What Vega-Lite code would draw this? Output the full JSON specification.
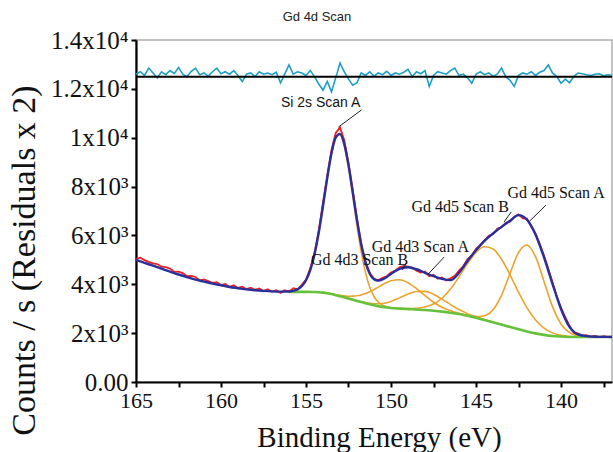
{
  "$schema": "https://vega.github.io/schema/vega-lite/v6.json",
  "width": 476,
  "height": 342,
  "autosize": "none",
  "padding": {"left": 136, "top": 40, "right": 1, "bottom": 70},
  "title": {"text": "Gd 4d Scan", "font": "Liberation Sans", "fontSize": 13, "fontWeight": "normal", "color": "#222222", "anchor": "middle", "dx": -57, "dy": 6, "baseline": "alphabetic", "offset": 0},
  "config": {"view": {"stroke": "#b0b0b0", "strokeWidth": 1.5}},
  "datasets": {
    "main": [
      {"E":165,"fit":5000},{"E":164.5,"fit":4880},{"E":164,"fit":4760},{"E":163.5,"fit":4640},{"E":163,"fit":4520},{"E":162.5,"fit":4400},{"E":162,"fit":4290},{"E":161.5,"fit":4190},{"E":161,"fit":4110},{"E":160.5,"fit":4030},{"E":160,"fit":3960},{"E":159.5,"fit":3890},{"E":159,"fit":3840},{"E":158.5,"fit":3790},{"E":158,"fit":3755},{"E":157.5,"fit":3730},{"E":157,"fit":3710},{"E":156.5,"fit":3700},
      {"E":156,"fit":3706,"bg":3690,"si":3706},
      {"E":155.5,"fit":3793,"bg":3690,"si":3793},
      {"E":155.25,"fit":3921,"bg":3690,"si":3921},
      {"E":155,"fit":4165,"bg":3690,"si":4165,"d3b":3690},
      {"E":154.75,"fit":4582,"bg":3688,"si":4582,"d3b":3688},
      {"E":154.5,"fit":5225,"bg":3683,"si":5224,"d3b":3684},
      {"E":154.25,"fit":6117,"bg":3675,"si":6115,"d3b":3677},
      {"E":154,"fit":7205,"bg":3660,"si":7201,"d3b":3664},
      {"E":153.75,"fit":8355,"bg":3635,"si":8348,"d3b":3642},
      {"E":153.5,"fit":9366,"bg":3600,"si":9353,"d3b":3613},
      {"E":153.25,"fit":10017,"bg":3555,"si":9994,"d3b":3578},
      {"E":153,"fit":10158,"bg":3510,"si":10119,"d3b":3548,"d3a":3511},
      {"E":152.75,"fit":9747,"bg":3465,"si":9684,"d3b":3527,"d3a":3466},
      {"E":152.5,"fit":8882,"bg":3415,"si":8784,"d3b":3511,"d3a":3417},
      {"E":152.25,"fit":7766,"bg":3370,"si":7618,"d3b":3514,"d3a":3374},
      {"E":152,"fit":6620,"bg":3320,"si":6403,"d3b":3529,"d3a":3328},
      {"E":151.75,"fit":5628,"bg":3270,"si":5322,"d3b":3562,"d3a":3284},
      {"E":151.5,"fit":4894,"bg":3225,"si":4476,"d3b":3619,"d3a":3249},
      {"E":151.25,"fit":4432,"bg":3180,"si":3880,"d3b":3692,"d3a":3220},
      {"E":151,"fit":4206,"bg":3140,"si":3500,"d3b":3783,"d3a":3203},
      {"E":150.75,"fit":4149,"bg":3105,"si":3274,"d3b":3884,"d3a":3201},
      {"E":150.5,"fit":4197,"bg":3075,"si":3148,"d3b":3984,"d3a":3215},
      {"E":150.25,"fit":4301,"bg":3050,"si":3079,"d3b":4074,"d3a":3248},
      {"E":150,"fit":4423,"bg":3030,"si":3040,"d3b":4143,"d3a":3298,"d5b":3032},
      {"E":149.5,"fit":4630,"bg":3005,"si":3006,"d3b":4184,"d3a":3444,"d5b":3011},
      {"E":149,"fit":4700,"bg":2985,"si":2985,"d3b":4066,"d3a":3601,"d5b":3003},
      {"E":148.5,"fit":4615,"bg":2965,"d3b":3823,"d3a":3706,"d5b":3016},
      {"E":148,"fit":4470,"bg":2945,"d3b":3535,"d3a":3710,"d5b":3071},
      {"E":147.5,"fit":4330,"bg":2915,"d3b":3266,"d3a":3591,"d5b":3193},
      {"E":147,"fit":4220,"bg":2880,"d3b":3061,"d3a":3392,"d5b":3429},
      {"E":146.5,"fit":4170,"bg":2835,"d3b":2916,"d3a":3168,"d5b":3802},
      {"E":146,"fit":4470,"bg":2780,"d3b":2811,"d3a":2965,"d5b":4300,"d5a":2782},
      {"E":145.5,"fit":4954,"bg":2710,"d3b":2720,"d3a":2799,"d5b":4845,"d5a":2720},
      {"E":145,"fit":5393,"bg":2630,"d3b":2633,"d3a":2666,"d5b":5307,"d5a":2677},
      {"E":144.5,"fit":5780,"bg":2540,"d3b":2541,"d3a":2553,"d5b":5537,"d5a":2715},
      {"E":144,"fit":6080,"bg":2445,"d3b":2445,"d3a":2449,"d5b":5442,"d5a":2961},
      {"E":143.5,"fit":6350,"bg":2350,"d3a":2351,"d5b":5027,"d5a":3549},
      {"E":143,"fit":6600,"bg":2255,"d3a":2255,"d5b":4390,"d5a":4443},
      {"E":142.5,"fit":6830,"bg":2160,"d5b":3680,"d5a":5299},
      {"E":142,"fit":6640,"bg":2070,"d5b":3037,"d5a":5610},
      {"E":141.5,"fit":6040,"bg":1990,"d5b":2539,"d5a":5129},
      {"E":141,"fit":5100,"bg":1930,"d5b":2208,"d5a":4118},
      {"E":140.5,"fit":4020,"bg":1885,"d5b":2011,"d5a":3084},
      {"E":140,"fit":2990,"bg":1860,"d5b":1911,"d5a":2376},
      {"E":139.5,"fit":2255,"bg":1845,"d5b":1863,"d5a":2020},
      {"E":139,"fit":1950,"bg":1840,"d5b":1846,"d5a":1887},
      {"E":138.5,"fit":1880,"bg":1840,"d5b":1842,"d5a":1850},
      {"E":138,"fit":1855,"bg":1840,"d5b":1840,"d5a":1842},
      {"E":137.5,"fit":1848,"bg":1840,"d5a":1840},
      {"E":137,"fit":1845,"bg":1840}
    ],
    "raw": [
      {"E":165,"c":5030},{"E":164.75,"c":5090},{"E":164.5,"c":4990},{"E":164.25,"c":4920},{"E":164,"c":4860},{"E":163.75,"c":4830},{"E":163.5,"c":4720},{"E":163.25,"c":4700},{"E":163,"c":4640},{"E":162.75,"c":4510},{"E":162.5,"c":4520},{"E":162.25,"c":4460},{"E":162,"c":4330},{"E":161.75,"c":4340},{"E":161.5,"c":4300},{"E":161.25,"c":4160},{"E":161,"c":4200},{"E":160.75,"c":4130},{"E":160.5,"c":4060},{"E":160.25,"c":4090},{"E":160,"c":3970},{"E":159.75,"c":4010},{"E":159.5,"c":3900},{"E":159.25,"c":3960},{"E":159,"c":3850},{"E":158.75,"c":3900},{"E":158.5,"c":3800},{"E":158.25,"c":3860},{"E":158,"c":3770},{"E":157.75,"c":3830},{"E":157.5,"c":3720},{"E":157.25,"c":3800},{"E":157,"c":3690},{"E":156.75,"c":3760},{"E":156.5,"c":3650},{"E":156.25,"c":3760},{"E":156,"c":3700},{"E":155.75,"c":3840},{"E":155.5,"c":3790},{"E":155.25,"c":3980},{"E":155,"c":4190},{"E":154.75,"c":4650},{"E":154.5,"c":5280},{"E":154.25,"c":6200},{"E":154,"c":7350},{"E":153.75,"c":8450},{"E":153.5,"c":9500},{"E":153.25,"c":10200},{"E":153,"c":10420},{"E":152.75,"c":9900},{"E":152.5,"c":8950},{"E":152.25,"c":7850},{"E":152,"c":6680},{"E":151.75,"c":5650},{"E":151.5,"c":4930},{"E":151.25,"c":4470},{"E":151,"c":4230},{"E":150.75,"c":4160},{"E":150.5,"c":4260},{"E":150.25,"c":4330},{"E":150,"c":4480},{"E":149.75,"c":4560},{"E":149.5,"c":4690},{"E":149.25,"c":4750},{"E":149,"c":4720},{"E":148.75,"c":4680},{"E":148.5,"c":4560},{"E":148.25,"c":4480},{"E":148,"c":4520},{"E":147.75,"c":4330},{"E":147.5,"c":4390},{"E":147.25,"c":4230},{"E":147,"c":4280},{"E":146.75,"c":4160},{"E":146.5,"c":4250},{"E":146.25,"c":4350},{"E":146,"c":4560},{"E":145.75,"c":4740},{"E":145.5,"c":5030},{"E":145.25,"c":5170},{"E":145,"c":5450},{"E":144.75,"c":5600},{"E":144.5,"c":5800},{"E":144.25,"c":5990},{"E":144,"c":6050},{"E":143.75,"c":6270},{"E":143.5,"c":6330},{"E":143.25,"c":6520},{"E":143,"c":6560},{"E":142.75,"c":6760},{"E":142.5,"c":6860},{"E":142.25,"c":6700},{"E":142,"c":6690},{"E":141.75,"c":6350},{"E":141.5,"c":6080},{"E":141.25,"c":5650},{"E":141,"c":5180},{"E":140.75,"c":4650},{"E":140.5,"c":4070},{"E":140.25,"c":3500},{"E":140,"c":3050},{"E":139.75,"c":2650},{"E":139.5,"c":2300},{"E":139.25,"c":2020},{"E":139,"c":1990},{"E":138.75,"c":1900},{"E":138.5,"c":1920},{"E":138.25,"c":1850},{"E":138,"c":1890},{"E":137.75,"c":1840},{"E":137.5,"c":1880},{"E":137.25,"c":1850},{"E":137,"c":1860}
    ],
    "res": [
      {"E":165,"r":12600},{"E":164.75,"r":12700},{"E":164.5,"r":12550},{"E":164.25,"r":12850},{"E":164,"r":12650},{"E":163.75,"r":12450},{"E":163.5,"r":12700},{"E":163.25,"r":12580},{"E":163,"r":12750},{"E":162.75,"r":12620},{"E":162.5,"r":12880},{"E":162.25,"r":12600},{"E":162,"r":12500},{"E":161.75,"r":12720},{"E":161.5,"r":12850},{"E":161.25,"r":12580},{"E":161,"r":12650},{"E":160.75,"r":12520},{"E":160.5,"r":12700},{"E":160.25,"r":12850},{"E":160,"r":12620},{"E":159.75,"r":12700},{"E":159.5,"r":12600},{"E":159.25,"r":12750},{"E":159,"r":12550},{"E":158.75,"r":12300},{"E":158.5,"r":12600},{"E":158.25,"r":12650},{"E":158,"r":12500},{"E":157.75,"r":12700},{"E":157.5,"r":12600},{"E":157.25,"r":12650},{"E":157,"r":12580},{"E":156.75,"r":12680},{"E":156.5,"r":12250},{"E":156.25,"r":12600},{"E":156,"r":12980},{"E":155.75,"r":12600},{"E":155.5,"r":12700},{"E":155.25,"r":12650},{"E":155,"r":12550},{"E":154.75,"r":12750},{"E":154.5,"r":12500},{"E":154.25,"r":12200},{"E":154,"r":11950},{"E":153.75,"r":12300},{"E":153.5,"r":11880},{"E":153.25,"r":12450},{"E":153,"r":13060},{"E":152.75,"r":12700},{"E":152.5,"r":12400},{"E":152.25,"r":12150},{"E":152,"r":12250},{"E":151.75,"r":12650},{"E":151.5,"r":12550},{"E":151.25,"r":12700},{"E":151,"r":12520},{"E":150.75,"r":12650},{"E":150.5,"r":12580},{"E":150.25,"r":12720},{"E":150,"r":12550},{"E":149.75,"r":12650},{"E":149.5,"r":12600},{"E":149.25,"r":12680},{"E":149,"r":12800},{"E":148.75,"r":12500},{"E":148.5,"r":12700},{"E":148.25,"r":12620},{"E":148,"r":12750},{"E":147.75,"r":12100},{"E":147.5,"r":12550},{"E":147.25,"r":12700},{"E":147,"r":12650},{"E":146.75,"r":12600},{"E":146.5,"r":12750},{"E":146.25,"r":12850},{"E":146,"r":12550},{"E":145.75,"r":12600},{"E":145.5,"r":12450},{"E":145.25,"r":12230},{"E":145,"r":12600},{"E":144.75,"r":12700},{"E":144.5,"r":12580},{"E":144.25,"r":12650},{"E":144,"r":12520},{"E":143.75,"r":12600},{"E":143.5,"r":12850},{"E":143.25,"r":12500},{"E":143,"r":12350},{"E":142.75,"r":12100},{"E":142.5,"r":12550},{"E":142.25,"r":12650},{"E":142,"r":12600},{"E":141.75,"r":12700},{"E":141.5,"r":12550},{"E":141.25,"r":12680},{"E":141,"r":12750},{"E":140.75,"r":12980},{"E":140.5,"r":12650},{"E":140.25,"r":12500},{"E":140,"r":12230},{"E":139.75,"r":12400},{"E":139.5,"r":12250},{"E":139.25,"r":12500},{"E":139,"r":12650},{"E":138.75,"r":12620},{"E":138.5,"r":12580},{"E":138.25,"r":12550},{"E":138,"r":12600},{"E":137.75,"r":12620},{"E":137.5,"r":12540},{"E":137.25,"r":12580},{"E":137,"r":12560}
    ],
    "zero": [{"y": 12500}],
    "leaders": [
      {"x1": 151.74, "y1": 11134, "x2": 153.09, "y2": 10438},
      {"x1": 149.1, "y1": 4871, "x2": 149.33, "y2": 4585},
      {"x1": 146.87, "y1": 5117, "x2": 147.86, "y2": 4380},
      {"x1": 142.93, "y1": 6959, "x2": 143.35, "y2": 6549},
      {"x1": 140.88, "y1": 7245, "x2": 141.88, "y2": 6561}
    ],
    "sans": [{"E": 154.14, "c": 11420, "t": "Si 2s Scan A"}],
    "serif": [
      {"E": 151.85, "c": 4994, "t": "Gd 4d3 Scan B"},
      {"E": 148.27, "c": 5526, "t": "Gd 4d3 Scan A"},
      {"E": 145.93, "c": 7163, "t": "Gd 4d5 Scan B"},
      {"E": 140.29, "c": 7736, "t": "Gd 4d5 Scan A"}
    ]
  },
  "layer": [
    {
      "data": {"name": "main"},
      "transform": [{"fold": ["si", "d3b", "d3a", "d5b", "d5a"], "as": ["key", "v"]}, {"filter": "isValid(datum.v)"}],
      "mark": {"type": "line", "color": "#eba32e", "strokeWidth": 1.6, "interpolate": "monotone"},
      "encoding": {
        "x": {"field": "E", "type": "quantitative", "scale": {"domain": [137, 165], "reverse": true, "nice": false, "zero": false},
          "axis": {"values": [165, 162.5, 160, 157.5, 155, 152.5, 150, 147.5, 145, 142.5, 140, 137.5],
            "labelExpr": "datum.value % 5 === 0 ? format(datum.value, 'd') : ''",
            "title": "Binding Energy (eV)", "titleFont": "Liberation Serif", "titleFontSize": 29, "titleFontWeight": "normal", "titleColor": "#111111",
            "titleX": 243, "titleY": 64, "titleBaseline": "alphabetic",
            "labelFont": "Liberation Serif", "labelFontSize": 22, "labelColor": "#111111", "labelPadding": 3,
            "domainColor": "#000000", "domainWidth": 2.2, "tickColor": "#000000", "tickWidth": 2, "tickSize": 5, "grid": false, "labelFlush": false, "labelOverlap": false}},
        "y": {"field": "v", "type": "quantitative", "scale": {"domain": [0, 14000], "nice": false},
          "axis": {"values": [0, 1000, 2000, 3000, 4000, 5000, 6000, 7000, 8000, 9000, 10000, 11000, 12000, 13000, 14000],
            "labelExpr": "datum.value == 0 ? '0.00' : (datum.value % 2000 != 0 ? '' : (datum.value == 10000 ? '1x10⁴' : (datum.value == 12000 ? '1.2x10⁴' : (datum.value == 14000 ? '1.4x10⁴' : (datum.value / 1000) + 'x10³'))))",
            "title": "Counts / s (Residuals x 2)", "titleFont": "Liberation Serif", "titleFontSize": 34, "titleFontWeight": "normal", "titleColor": "#111111",
            "titleX": -112, "titleY": 220, "titleBaseline": "middle", "titleAlign": "center", "titleAngle": -90,
            "labelFont": "Liberation Serif", "labelFontSize": 25, "labelColor": "#111111", "labelPadding": 3,
            "domainColor": "#000000", "domainWidth": 2.2, "tickColor": "#000000", "tickWidth": 2, "tickSize": 5, "grid": false, "labelFlush": false, "labelOverlap": false}},
        "detail": {"field": "key", "type": "nominal"}
      }
    },
    {
      "data": {"name": "main"},
      "mark": {"type": "line", "color": "#66c23a", "strokeWidth": 2.6, "interpolate": "monotone"},
      "encoding": {"x": {"field": "E", "type": "quantitative"}, "y": {"field": "bg", "type": "quantitative"}}
    },
    {
      "data": {"name": "raw"},
      "mark": {"type": "line", "color": "#ee2020", "strokeWidth": 1.8},
      "encoding": {"x": {"field": "E", "type": "quantitative"}, "y": {"field": "c", "type": "quantitative"}}
    },
    {
      "data": {"name": "main"},
      "mark": {"type": "line", "color": "#2a2f9c", "strokeWidth": 2.4, "interpolate": "monotone"},
      "encoding": {"x": {"field": "E", "type": "quantitative"}, "y": {"field": "fit", "type": "quantitative"}}
    },
    {
      "data": {"name": "res"},
      "mark": {"type": "line", "color": "#1f9fc4", "strokeWidth": 1.6},
      "encoding": {"x": {"field": "E", "type": "quantitative"}, "y": {"field": "r", "type": "quantitative"}}
    },
    {
      "data": {"name": "zero"},
      "mark": {"type": "rule", "color": "#000000", "strokeWidth": 2},
      "encoding": {"y": {"field": "y", "type": "quantitative"}}
    },
    {
      "data": {"name": "leaders"},
      "mark": {"type": "rule", "color": "#222222", "strokeWidth": 1},
      "encoding": {"x": {"field": "x1", "type": "quantitative"}, "y": {"field": "y1", "type": "quantitative"}, "x2": {"field": "x2"}, "y2": {"field": "y2"}}
    },
    {
      "data": {"name": "sans"},
      "mark": {"type": "text", "font": "Liberation Sans", "fontSize": 14, "color": "#111111", "align": "center", "baseline": "middle"},
      "encoding": {"x": {"field": "E", "type": "quantitative"}, "y": {"field": "c", "type": "quantitative"}, "text": {"field": "t"}}
    },
    {
      "data": {"name": "serif"},
      "mark": {"type": "text", "font": "Liberation Serif", "fontSize": 16, "color": "#111111", "align": "center", "baseline": "middle"},
      "encoding": {"x": {"field": "E", "type": "quantitative"}, "y": {"field": "c", "type": "quantitative"}, "text": {"field": "t"}}
    }
  ]
}
